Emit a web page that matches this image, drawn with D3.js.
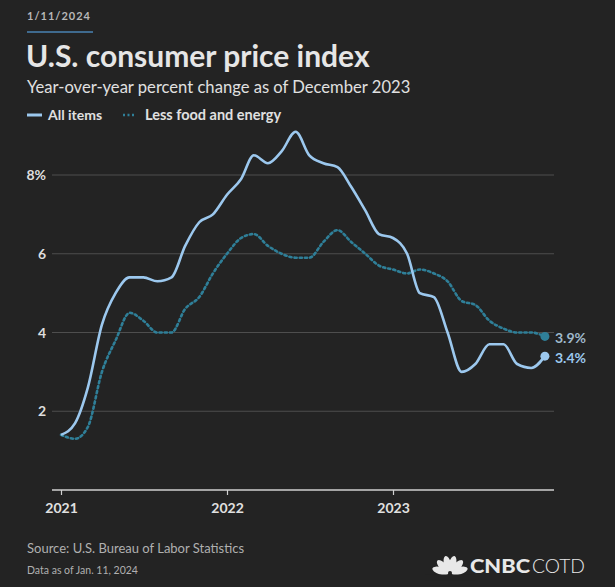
<!DOCTYPE html>
<html><head><meta charset="utf-8">
<script src="https://cdn.jsdelivr.net/npm/d3@7"></script>
<style>
html,body{margin:0;padding:0;background:#232323;}
svg{display:block;font-family:Lato,"Open Sans",sans-serif;}
</style></head>
<body>
<svg id="c" width="615" height="587"></svg>
<script>
const months = d3.range(36).map(i => new Date(2021, i, 1));
const allItems = [1.4,1.7,2.6,4.2,5.0,5.4,5.4,5.3,5.4,6.2,6.8,7.0,
                  7.5,7.9,8.5,8.3,8.6,9.1,8.5,8.3,8.2,7.7,7.1,6.5,
                  6.4,6.0,5.0,4.9,4.0,3.0,3.2,3.7,3.7,3.2,3.1,3.4];
const core =     [1.4,1.3,1.6,3.0,3.8,4.5,4.3,4.0,4.0,4.6,4.9,5.5,
                  6.0,6.4,6.5,6.2,6.0,5.9,5.9,6.3,6.6,6.3,6.0,5.7,
                  5.6,5.5,5.6,5.5,5.3,4.8,4.7,4.3,4.1,4.0,4.0,3.9];
const yTicks = [2,4,6,8];
const xTickYears = [2021,2022,2023];
const seriesNames = ["All items","Less food and energy"];

const svg = d3.select("#c");
const x = d3.scaleTime().domain([new Date(2021,0,1), new Date(2024,0,1)]).range([61, 559]);
const y = d3.scaleLinear().domain([0, 8]).range([490, 175]);

// header
svg.append("text").attr("x",27).attr("y",20).text("1/11/2024")
  .attr("fill","#b8b8b8").attr("font-size",11).attr("font-weight",700).attr("letter-spacing",1.0);
svg.append("rect").attr("x",27).attr("y",31).attr("width",66).attr("height",2).attr("fill","#3f6a8e");
svg.append("text").attr("x",26).attr("y",67).text("U.S. consumer price index")
  .attr("fill","#e6e6e6").attr("font-size",30).attr("font-weight",700);
svg.append("text").attr("x",27).attr("y",93).text("Year-over-year percent change as of December 2023")
  .attr("fill","#e0e0e0").attr("font-size",16.6);

// legend
svg.append("line").attr("x1",27).attr("x2",42).attr("y1",115).attr("y2",115)
  .attr("stroke","#9cc8ee").attr("stroke-width",3);
svg.append("text").attr("x",48).attr("y",120).text(seriesNames[0])
  .attr("fill","#e0e0e0").attr("font-size",14).attr("font-weight",700);
svg.append("line").attr("x1",123).attr("x2",135).attr("y1",115).attr("y2",115)
  .attr("stroke","#2f7f98").attr("stroke-width",2.5).attr("stroke-dasharray","2,2.5");
svg.append("text").attr("x",145).attr("y",120).text(seriesNames[1])
  .attr("fill","#e0e0e0").attr("font-size",14.5).attr("font-weight",700);

// grid
const g = svg.append("g");
g.selectAll(".grid").data(yTicks).join("line")
  .attr("x1",52).attr("x2",554).attr("y1",d=>y(d)).attr("y2",d=>y(d))
  .attr("stroke","#4e4e4e").attr("stroke-width",1.2);
g.selectAll(".yl").data(yTicks).join("text")
  .attr("x",46).attr("y",d=>y(d)+5).attr("text-anchor","end")
  .text(d => d===8 ? "8%" : d)
  .attr("fill","#dedede").attr("font-size",14).attr("font-weight",700);

// x axis
const xa = svg.append("g").attr("transform","translate(0,490)")
  .call(d3.axisBottom(x).tickValues(xTickYears.map(yr=>new Date(yr,0,1)))
        .tickFormat(d3.timeFormat("%Y")).tickSize(5).tickSizeOuter(0).tickPadding(8));
xa.select(".domain").remove();
xa.append("line").attr("x1",52).attr("x2",554).attr("stroke","#d0d0d0").attr("stroke-width",1.5);
xa.selectAll(".tick line").attr("stroke","#d0d0d0").attr("stroke-width",1.2);
xa.selectAll(".tick text").attr("fill","#e0e0e0").attr("font-size",14).attr("font-weight",700)
  .attr("font-family","Lato,sans-serif");

// lines
const line = d3.line().x((d,i)=>x(months[i])).y(d=>y(d)).curve(d3.curveMonotoneX);
svg.append("path").attr("d",line(core)).attr("fill","none")
  .attr("stroke","#2f7f98").attr("stroke-width",2.6).attr("stroke-dasharray","2.2,3")
  .attr("stroke-linecap","round");
svg.append("path").attr("d",line(allItems)).attr("fill","none")
  .attr("stroke","#9cc8ee").attr("stroke-width",2.6);

// end dots + labels
const last = 35;
svg.append("circle").attr("cx",x(months[last])).attr("cy",y(core[last])).attr("r",4.5).attr("fill","#2f7f98");
svg.append("circle").attr("cx",x(months[last])).attr("cy",y(allItems[last])).attr("r",4.5).attr("fill","#9cc8ee");
svg.append("text").attr("x",555).attr("y",y(core[last])+7).text(core[last].toFixed(1)+"%")
  .attr("fill","#9fb9cc").attr("font-size",14).attr("font-weight",700);
svg.append("text").attr("x",555).attr("y",y(allItems[last])+7).text(allItems[last].toFixed(1)+"%")
  .attr("fill","#9cc8ee").attr("font-size",14).attr("font-weight",700);

// footer
svg.append("text").attr("x",27).attr("y",553).text("Source: U.S. Bureau of Labor Statistics")
  .attr("fill","#b0b0b0").attr("font-size",13);
svg.append("text").attr("x",27).attr("y",574).text("Data as of Jan. 11, 2024")
  .attr("fill","#b0b0b0").attr("font-size",10.5);

// logo: simplified peacock
const logo = svg.append("g").attr("transform","translate(450,574)");
const angles = [-72,-43,-14,14,43,72];
angles.forEach(a => {
  logo.append("ellipse").attr("cx",0).attr("cy",-10).attr("rx",3.6).attr("ry",8.5)
    .attr("fill","#e8e8e8").attr("transform",`rotate(${a})`);
});
logo.append("rect").attr("x",-25).attr("y",0.5).attr("width",50).attr("height",6).attr("fill","#232323");
logo.append("circle").attr("cx",0).attr("cy",-1).attr("r",2).attr("fill","#232323");
svg.append("text").attr("x",470).attr("y",573).text("CNBC")
  .attr("fill","#e8e8e8").attr("font-size",19).attr("font-weight",900).attr("font-family","Lato,sans-serif")
  .attr("textLength",60).attr("lengthAdjust","spacingAndGlyphs");
svg.append("text").attr("x",532).attr("y",573).text("COTD")
  .attr("fill","#e8e8e8").attr("font-size",19).attr("font-weight",300).attr("font-family","Lato,sans-serif")
  .attr("textLength",53).attr("lengthAdjust","spacingAndGlyphs");
</script>
</body></html>
